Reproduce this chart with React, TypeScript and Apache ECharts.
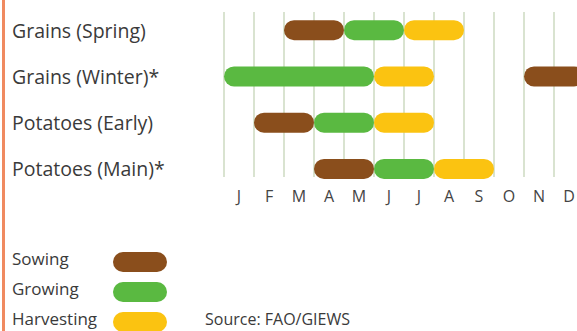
import React, { useEffect, useRef } from "react";
import * as echarts from "echarts";

const crops = ["Grains (Spring)", "Grains (Winter)*", "Potatoes (Early)", "Potatoes (Main)*"];
const months = ["J", "F", "M", "A", "M", "J", "J", "A", "S", "O", "N", "D"];
// [cropIndex, startMonth, endMonth] (months counted from 0 = start of January)
const sowing = [[0, 2, 4], [1, 10, 12], [2, 1, 3], [3, 3, 5]];
const growing = [[0, 4, 6], [1, 0, 5], [2, 3, 5], [3, 5, 7]];
const harvesting = [[0, 6, 8], [1, 5, 7], [2, 5, 7], [3, 7, 9]];
const stages = ["Sowing", "Growing", "Harvesting"];
const stageColors = ["#8a4e1c", "#5ab941", "#fbc311"];
const sourceText = "Source: FAO/GIEWS";

const FONT = "'Open Sans', sans-serif";
const TEXT_COLOR = "#3a3a3a";

export default function App() {
  const ref = useRef<HTMLDivElement>(null);
  useEffect(() => {
    document.body.style.margin = "0";
    const chart = echarts.init(ref.current!, null, { renderer: "svg" });
    const renderItem = (params: any, api: any) => {
      const row = api.value(0);
      const p0 = api.coord([api.value(1), row]);
      const p1 = api.coord([api.value(2), row]);
      const h = 20;
      return {
        type: "rect",
        shape: { x: p0[0], y: p0[1] - h / 2, width: p1[0] - p0[0], height: h, r: h / 2 },
        style: { fill: api.visual("color") },
      };
    };
    const seriesData = [sowing, growing, harvesting];
    const legendGraphics: any[] = [];
    stages.forEach((s, i) => {
      const cy = 262 + i * 30;
      legendGraphics.push({
        type: "text",
        left: 12,
        top: cy - 12,
        style: { text: s, fontSize: 17, fontFamily: FONT, fill: TEXT_COLOR },
      });
      legendGraphics.push({
        type: "rect",
        shape: { x: 113, y: cy - 10, width: 54, height: 20, r: 10 },
        style: { fill: stageColors[i] },
      });
    });
    chart.setOption({
      animation: false,
      backgroundColor: "#ffffff",
      grid: [
        { left: 224, top: 7, width: 360, height: 185 },
        { left: 224, top: 12, width: 360, height: 165 },
      ],
      xAxis: [
        {
          type: "value",
          gridIndex: 0,
          min: 0,
          max: 12,
          interval: 1,
          show: false,
        },
        {
          type: "category",
          gridIndex: 1,
          data: months,
          boundaryGap: true,
          position: "bottom",
          axisLine: { show: false },
          axisTick: { show: false },
          splitLine: { show: true, lineStyle: { color: "#d9e3d0", width: 2 } },
          axisLabel: {
            margin: 11,
            fontSize: 16,
            fontFamily: FONT,
            color: "#444",
            interval: 0,
          },
        },
      ],
      yAxis: [
        {
          type: "category",
          gridIndex: 0,
          data: crops,
          inverse: true,
          axisLine: { show: false },
          axisTick: { show: false },
          splitLine: { show: false },
          axisLabel: {
            align: "left",
            margin: 212,
            fontSize: 19.5,
            fontFamily: FONT,
            color: TEXT_COLOR,
          },
        },
        { type: "value", gridIndex: 1, show: false },
      ],
      series: stages.map((s, i) => ({
        name: s,
        type: "custom",
        xAxisIndex: 0,
        yAxisIndex: 0,
        color: stageColors[i],
        renderItem,
        encode: { x: [1, 2], y: 0 },
        data: seriesData[i],
        z: 5,
      })),
      graphic: [
        { type: "rect", shape: { x: 2, y: 0, width: 3, height: 331 }, style: { fill: "#f08a60" } },
        ...legendGraphics,
        {
          type: "text",
          left: 205,
          top: 311,
          style: { text: sourceText, fontSize: 16, fontFamily: FONT, fill: TEXT_COLOR },
        },
      ],
    });
    return () => chart.dispose();
  }, []);
  return (
    <div style={{ width: 577, height: 331, overflow: "hidden", position: "relative" }}>
      <div ref={ref} style={{ width: 584, height: 331 }} />
    </div>
  );
}
